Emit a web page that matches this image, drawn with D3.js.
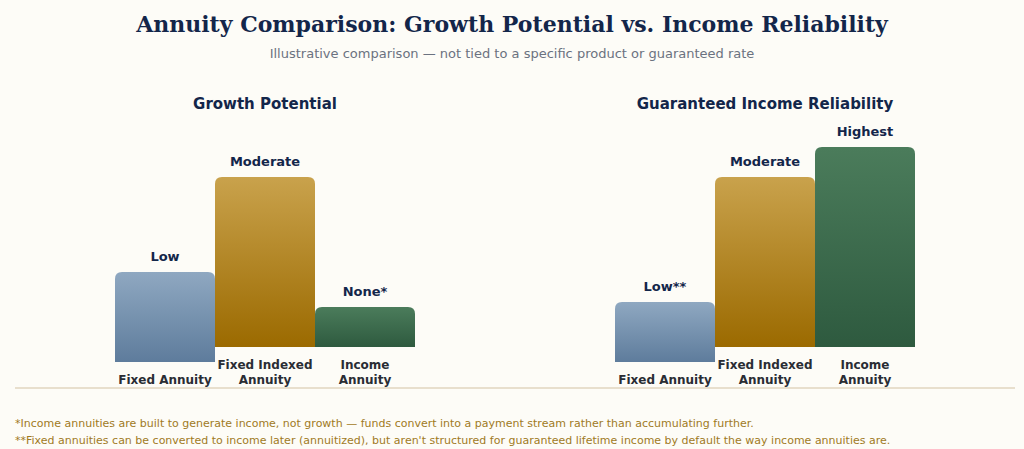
<!DOCTYPE html>
<html>
<head>
<meta charset="utf-8">
<script src="https://cdn.jsdelivr.net/npm/d3@7"></script>
<style>
  html, body { margin: 0; padding: 0; background: #fdfcf7; }
  svg { display: block; }
</style>
</head>
<body>
<svg id="chart"></svg>
<script>
const width = 1024;
const height = 449;

// data (0-100 qualitative scale)
const categories = ["Fixed Annuity", "Fixed Indexed Annuity", "Income Annuity"];
const categoryLines = [["Fixed Annuity"], ["Fixed Indexed", "Annuity"], ["Income", "Annuity"]];
const panelTitles = ["Growth Potential", "Guaranteed Income Reliability"];
const growthValues = [45, 85, 20];
const growthLabels = ["Low", "Moderate", "None*"];
const incomeValues = [30, 85, 100];
const incomeLabels = ["Low**", "Moderate", "Highest"];
const footnotes = [
    "*Income annuities are built to generate income, not growth \u2014 funds convert into a payment stream rather than accumulating further.",
    "**Fixed annuities can be converted to income later (annuitized), but aren't structured for guaranteed lifetime income by default the way income annuities are."
];

const gradients = [
    { id: "gBlue", top: "#8fa8c1", bottom: "#5e7c9c" },
    { id: "gGold", top: "#c9a24c", bottom: "#9b6a00" },
    { id: "gGreen", top: "#4b7c5b", bottom: "#2e5a3f" }
];

const svg = d3.select("#chart").attr("width", width).attr("height", height);
svg.append("rect").attr("width", width).attr("height", height).attr("fill", "#fdfcf7");

const defs = svg.append("defs");
gradients.forEach(g => {
    const lg = defs.append("linearGradient").attr("id", g.id).attr("x1", 0).attr("y1", 0).attr("x2", 0).attr("y2", 1);
    lg.append("stop").attr("offset", "0%").attr("stop-color", g.top);
    lg.append("stop").attr("offset", "100%").attr("stop-color", g.bottom);
});

// TITRES
svg.append("text").attr("x", width / 2).attr("y", 32).attr("text-anchor", "middle")
    .attr("font-family", "DejaVu Serif").attr("font-weight", "bold").attr("font-size", 22)
    .attr("fill", "#13264a").text("Annuity Comparison: Growth Potential vs. Income Reliability");
svg.append("text").attr("x", width / 2).attr("y", 57.5).attr("text-anchor", "middle")
    .attr("font-family", "DejaVu Sans").attr("font-size", 13)
    .attr("fill", "#6b7280").text("Illustrative comparison \u2014 not tied to a specific product or guaranteed rate");

const panels = [
    { title: panelTitles[0], values: growthValues, labels: growthLabels, cx: 265 },
    { title: panelTitles[1], values: incomeValues, labels: incomeLabels, cx: 765 }
];

const barW = 100;
const lineH = 15;
const labelBottom = 384; // baseline of last line of the category labels
const y = d3.scaleLinear().domain([0, 100]).range([0, 200]);

function topRounded(x0, y0, w, h, r) {
    return `M${x0},${y0 + h}V${y0 + r}Q${x0},${y0} ${x0 + r},${y0}H${x0 + w - r}Q${x0 + w},${y0} ${x0 + w},${y0 + r}V${y0 + h}Z`;
}

panels.forEach(p => {
    const x = d3.scaleBand().domain(categories).range([p.cx - barW * 1.5, p.cx + barW * 1.5]).padding(0);
    const g = svg.append("g");

    g.append("text").attr("x", p.cx).attr("y", 109).attr("text-anchor", "middle")
        .attr("font-family", "DejaVu Sans").attr("font-weight", "bold").attr("font-size", 15)
        .attr("fill", "#13264a").text(p.title);

    const rows = categories.map((c, i) => {
        const lines = categoryLines[i];
        const base = labelBottom - lines.length * lineH - 7;
        return { cat: c, lines, base, value: p.values[i], label: p.labels[i], grad: gradients[i].id };
    });

    const bars = g.selectAll(".bar").data(rows).enter().append("g");
    bars.append("path")
        .attr("d", d => topRounded(x(d.cat), d.base - y(d.value), x.bandwidth(), y(d.value), 7))
        .attr("fill", d => `url(#${d.grad})`);
    bars.append("text")
        .attr("x", d => x(d.cat) + x.bandwidth() / 2).attr("y", d => d.base - y(d.value) - 11)
        .attr("text-anchor", "middle").attr("font-family", "DejaVu Sans").attr("font-weight", "bold").attr("font-size", 13)
        .attr("fill", "#13264a").text(d => d.label);
    bars.each(function(d) {
        const t = d3.select(this).append("text").attr("text-anchor", "middle")
            .attr("font-family", "DejaVu Sans").attr("font-weight", "bold").attr("font-size", 12).attr("fill", "#2a2d34");
        d.lines.forEach((l, k) => {
            t.append("tspan").attr("x", x(d.cat) + x.bandwidth() / 2)
                .attr("y", labelBottom - (d.lines.length - 1 - k) * lineH).text(l);
        });
    });
});

svg.append("line").attr("x1", 15).attr("x2", width - 9).attr("y1", 388).attr("y2", 388)
    .attr("stroke", "#e0d6bf").attr("stroke-width", 1.5);

svg.selectAll(".foot").data(footnotes).enter().append("text")
    .attr("x", 15).attr("y", (d, i) => 427 + i * 17)
    .attr("font-family", "DejaVu Sans").attr("font-size", 11)
    .attr("fill", "#a07a1e").text(d => d);
</script>
</body>
</html>
